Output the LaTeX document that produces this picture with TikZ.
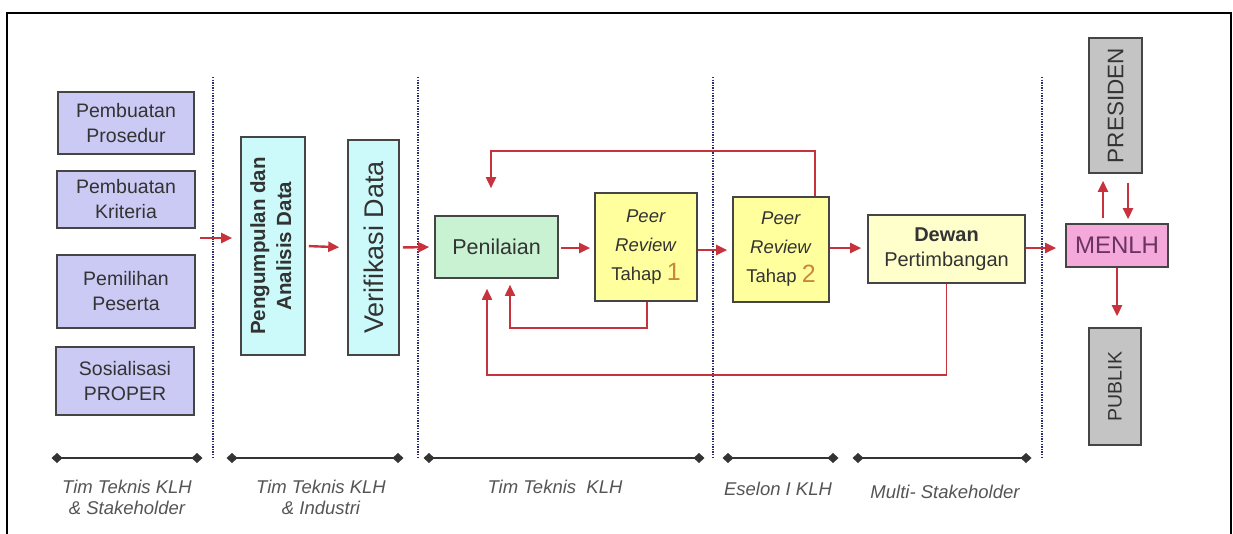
\documentclass[tikz,border=0pt]{standalone}
\usepackage{fontspec}
\setmainfont{Liberation Sans}
\usetikzlibrary{arrows.meta}
\definecolor{txt}{HTML}{333333}
\definecolor{lbl}{HTML}{555555}
\definecolor{boxline}{HTML}{454545}
\definecolor{lav}{HTML}{CACAF4}
\definecolor{cyanbox}{HTML}{CCFAFA}
\definecolor{greenbox}{HTML}{C8F2D2}
\definecolor{yelbox}{HTML}{FFFF9E}
\definecolor{dewbox}{HTML}{FFFFCC}
\definecolor{pinkbox}{HTML}{F5A8DA}
\definecolor{graybox}{HTML}{C4C4C4}
\definecolor{menlhtxt}{HTML}{6A3360}
\definecolor{numc}{HTML}{C8873A}
\definecolor{arrc}{HTML}{C8323C}
\definecolor{dotc}{HTML}{2E2E6E}
\begin{document}
\begin{tikzpicture}[x=1pt,y=-1pt,
  box/.style={draw=boxline, line width=1.6pt, text=txt, inner sep=0pt, align=center},
  leftbox/.style={box, fill=lav, font=\fontsize{19.5}{25}\selectfont},
  arr/.style={draw=arrc, line width=2.4pt, -{Triangle[length=11pt,width=10pt]}},
  fb/.style={draw=arrc, line width=1.8pt, -{Triangle[length=11pt,width=10pt]}},
  sep/.style={draw=dotc, line width=2.2pt, dash pattern=on 1.3pt off 1.3pt},
  bar/.style={draw=black!80, line width=1.5pt, {Diamond[length=11pt,width=10pt]}-{Diamond[length=11pt,width=10pt]}, shorten <=-5.5pt, shorten >=-5.5pt},
  lab/.style={text=lbl, align=center, font=\fontsize{18.5}{21}\selectfont\itshape}
]
\useasboundingbox (0,0) rectangle (1233,533);
\fill[white] (0,0) rectangle (1233,533);
% frame
\draw[line width=2.2pt, black] (7,540) -- (7,13) -- (1231,13) -- (1231,540);

% left boxes
\node[leftbox, minimum width=136pt, minimum height=62pt] (pros) at (126,123) {Pembuatan\\Prosedur};
\node[leftbox, minimum width=138pt, minimum height=57pt] (krit) at (126,199.5) {Pembuatan\\Kriteria};
\node[leftbox, minimum width=138pt, minimum height=73pt] (pemi) at (126,291.5) {Pemilihan\\Peserta};
\node[leftbox, minimum width=138pt, minimum height=68pt] (sos) at (125,381) {Sosialisasi\\PROPER};

% data boxes
\node[box, fill=cyanbox, minimum width=64pt, minimum height=218pt] (peng) at (273,246)
  {\rotatebox{90}{\fontsize{20.5}{26}\selectfont\bfseries\begin{tabular}{@{}c@{}}Pengumpulan dan\\Analisis Data\end{tabular}}};
\node[box, fill=cyanbox, minimum width=51pt, minimum height=215pt] (verif) at (373.5,247.5)
  {\rotatebox{90}{\fontsize{27}{30}\selectfont Verifikasi Data}};

% assessment
\node[box, fill=greenbox, minimum width=123pt, minimum height=62pt, font=\fontsize{21.5}{25}\selectfont] (pen) at (496.5,247) {Penilaian};
\node[box, fill=yelbox, minimum width=102pt, minimum height=108pt, font=\fontsize{18.5}{29}\selectfont] (pr1) at (646,247)
  {\textit{Peer}\\\textit{Review}\\Tahap {\fontsize{25}{29}\selectfont\textcolor{numc}{1}}};
\node[box, fill=yelbox, minimum width=96pt, minimum height=105pt, font=\fontsize{18.5}{29}\selectfont] (pr2) at (781,249.5)
  {\textit{Peer}\\\textit{Review}\\Tahap {\fontsize{25}{29}\selectfont\textcolor{numc}{2}}};
\node[box, fill=dewbox, minimum width=157pt, minimum height=68pt, font=\fontsize{20}{25}\selectfont] (dewan) at (946.5,249)
  {\textbf{Dewan}\\Pertimbangan};

% right side
\node[box, fill=pinkbox, text=menlhtxt, minimum width=102pt, minimum height=43pt, font=\fontsize{24}{26}\selectfont] (menlh) at (1117,245.5) {MENLH};
\node[box, fill=graybox, minimum width=53pt, minimum height=135pt] (pres) at (1115.5,105.5)
  {\rotatebox{90}{\fontsize{22.5}{26}\selectfont PRESIDEN}};
\node[box, fill=graybox, minimum width=52pt, minimum height=117pt] (pub) at (1115,386.5)
  {\rotatebox{90}{\fontsize{19.5}{24}\selectfont PUBLIK}};

% separators
\coordinate (s1t) at (213,77); \coordinate (s1b) at (213,458);
\coordinate (s2t) at (418,77); \coordinate (s2b) at (418,458);
\coordinate (s3t) at (713,77); \coordinate (s3b) at (713,458);
\coordinate (s4t) at (1042,77); \coordinate (s4b) at (1042,458);
\draw[sep] (s1t) -- (s1b);
\draw[sep] (s2t) -- (s2b);
\draw[sep] (s3t) -- (s3b);
\draw[sep] (s4t) -- (s4b);

% main flow arrows
\coordinate (in1) at (200,238);
\draw[arr, shorten >=8pt] (in1) -- (in1 -| peng.west);
\draw[arr, shorten <=3pt, shorten >=8pt] (peng.east) -- (verif.west);
\draw[arr, shorten <=3pt, shorten >=5pt] (verif.east) -- (pen.west);
\draw[arr, shorten <=2pt, shorten >=4pt] ([yshift=-1pt]pen.east) -- ([yshift=-1pt]pen.east -| pr1.west);
\draw[arr, shorten <=0pt, shorten >=5pt] ([yshift=-3pt]pr1.east) -- ([yshift=-3pt]pr1.east -| pr2.west);
\draw[arr, shorten <=0pt, shorten >=6pt] ([yshift=1.5pt]pr2.east) -- ([yshift=1.5pt]pr2.east -| dewan.west);
\draw[arr, shorten <=0pt, shorten >=9pt] ([yshift=1pt]dewan.east) -- ([yshift=1pt]dewan.east -| menlh.west);
\draw[arr, shorten <=5pt, shorten >=7pt] (menlh.north -| 1103,0) -- (pres.south -| 1103,0);
\draw[arr, shorten <=9pt, shorten >=4pt] (pres.south -| 1128,0) -- (menlh.north -| 1128,0);
\draw[arr, shorten >=11pt] (menlh.south) -- (pub.north -| menlh.south);

% feedback loops
\draw[fb, shorten >=27pt] (pr2.north -| 815,0) |- (491,151) -- (pen.north -| 491,0);
\draw[fb, shorten >=6pt] (pr1.south -| 647,0) |- (510,328) -- (pen.south -| 510,0);
\draw[fb, shorten >=10pt] (dewan.south) |- (487,375) -- (pen.south -| 487,0);

% bottom bars
\coordinate (b1l) at (57,458); \coordinate (b1r) at (197,458);
\coordinate (b2l) at (232,458); \coordinate (b2r) at (398,458);
\coordinate (b3l) at (429,458); \coordinate (b3r) at (699,458);
\coordinate (b4l) at (728,458); \coordinate (b4r) at (833,458);
\coordinate (b5l) at (858,458); \coordinate (b5r) at (1026,458);
\draw[bar] (b1l) -- (b1r);
\draw[bar] (b2l) -- (b2r);
\draw[bar] (b3l) -- (b3r);
\draw[bar] (b4l) -- (b4r);
\draw[bar] (b5l) -- (b5r);

% labels
\node[lab] (l1) at (127,497) {Tim Teknis KLH\\\& Stakeholder};
\node[lab] (l2) at (321,497) {Tim Teknis KLH\\\& Industri};
\node[lab] (l3) at (555,487) {Tim Teknis\ \ KLH};
\node[lab] (l4) at (778,489) {Eselon I KLH};
\node[lab] (l5) at (945,492) {Multi- Stakeholder};
\end{tikzpicture}
\end{document}
